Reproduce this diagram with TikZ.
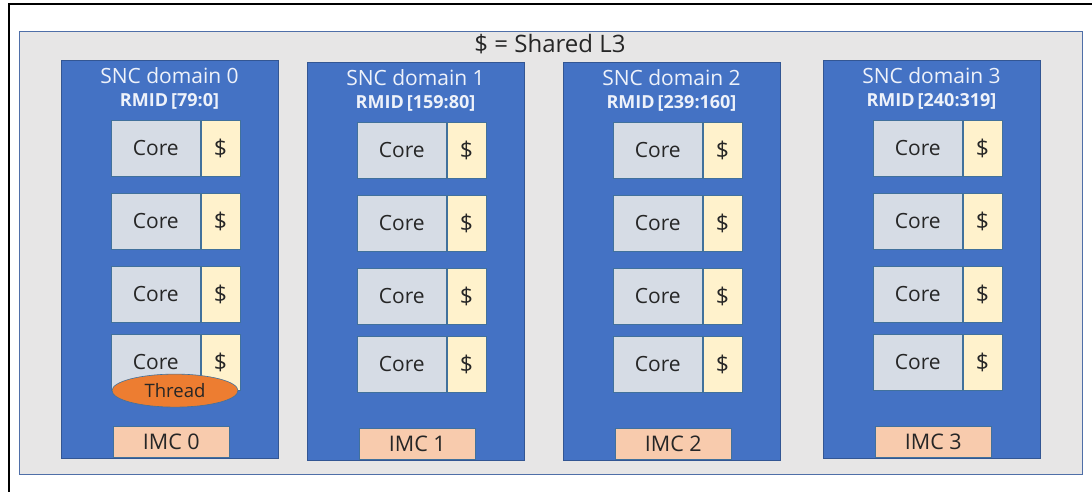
\documentclass[tikz,border=0pt]{standalone}
\usepackage{fontspec}
\setmainfont{Open Sans}
\usetikzlibrary{positioning,shapes.geometric}
\definecolor{Sheet}{HTML}{E7E6E6}
\definecolor{Rim}{HTML}{4F6FA8}
\definecolor{Domain}{HTML}{4472C4}
\definecolor{Edge}{HTML}{41719C}
\definecolor{Slate}{HTML}{D6DCE5}
\definecolor{Cream}{HTML}{FFF2CC}
\definecolor{Amber}{HTML}{ED7D31}
\definecolor{Peach}{HTML}{F8CBAD}
\definecolor{Snow}{HTML}{EEF2FA}
\definecolor{Ink}{HTML}{262626}
\tikzset{
  panel/.style={draw=Rim,line width=1pt,fill=Sheet},
  domainbox/.style={anchor=north west,minimum width=217pt,minimum height=398pt,inner sep=0pt,
    draw=Domain!75!black,line width=0.6pt,fill=Domain},
  headtext/.style={text=Snow,inner sep=0pt,font=\fontsize{21}{24}\selectfont},
  rmidtext/.style={text=Snow,inner sep=0pt,font=\fontsize{18}{21}\selectfont\bfseries},
  corebox/.style={anchor=north west,minimum width=89pt,minimum height=56pt,inner sep=0pt,
    draw=Edge,line width=0.6pt,fill=Slate,text=Ink,font=\fontsize{21}{24}\selectfont},
  cachebox/.style={corebox,anchor=west,minimum width=39pt,fill=Cream,font=\fontsize{23}{26}\selectfont},
  threadnode/.style={ellipse,minimum width=126pt,minimum height=33pt,inner sep=0pt,
    draw=Edge,line width=0.6pt,fill=Amber,text=Ink,font=\fontsize{18.5}{21}\selectfont},
  imcbox/.style={anchor=south west,minimum width=116pt,minimum height=31pt,inner sep=0pt,
    draw=Edge,line width=0.6pt,fill=Peach,text=Ink,font=\fontsize{21.5}{24}\selectfont},
  titletext/.style={inner sep=0pt,text=Ink,font=\fontsize{24}{28}\selectfont},
}

\begin{document}
\begin{tikzpicture}[x=1pt,y=-1pt,node distance=0pt]
  \useasboundingbox[fill=white] (0,0) rectangle (1092,492);
  % outer frame, cut by the page
  \draw[line width=2pt] (9,493) -- (9,4) -- (1093,4);
  \draw[panel] (19,32) rectangle (1082,474);
  \node[titletext] (ttl) at (550,44) {\$ = Shared L3};

  \foreach \i/\x/\y/\rng in {0/61/60/{79:0},1/307/62/{159:80},2/563/62/{239:160},3/823/60/{240:319}}{
    \node[domainbox] (d\i) at (\x,\y) {};
    \node[headtext] (h\i) at ({\x+108.5},{\y+16}) {SNC domain \i};
    \node[rmidtext] (m\i) at ({\x+108.5},{\y+41}) {RMID\,[\rng]};
    \foreach \r/\dy in {1/60,2/133,3/206,4/274}{
      \node[corebox] (c\i-\r) at ({\x+50},{\y+\dy}) {Core};
      \node[cachebox,right=of c\i-\r] (s\i-\r) {\$};
    }
    \node[imcbox] (imc\i) at ({\x+52},{\y+398}) {IMC \i};
  }
  \node[threadnode] (t0) at ([xshift=64pt]c0-4.south west) {Thread};
\end{tikzpicture}
\end{document}
